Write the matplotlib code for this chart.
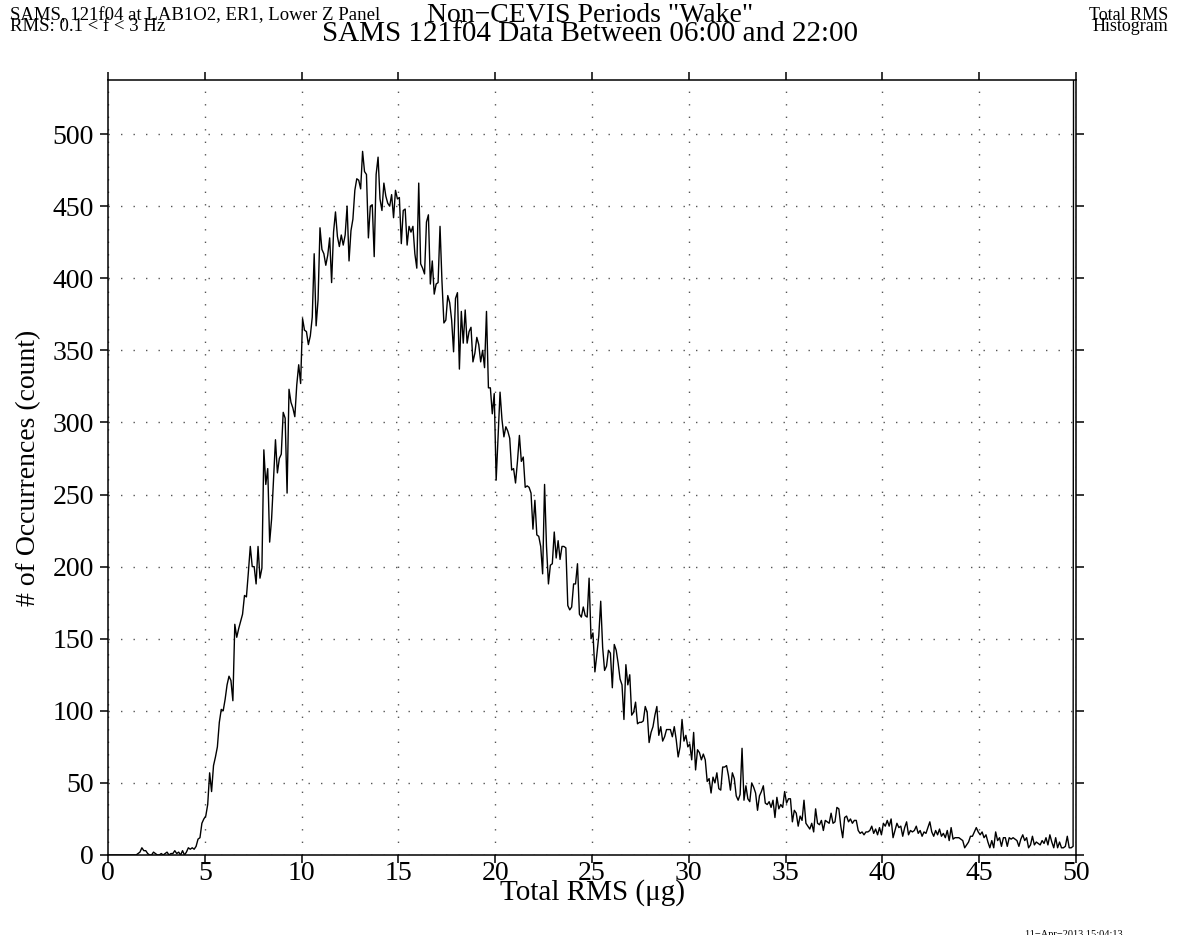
import numpy as np
import matplotlib
matplotlib.use("Agg")
import matplotlib.pyplot as plt

plt.rcParams['font.family'] = ['Liberation Serif', 'DejaVu Serif']

# histogram counts, bin width 0.1 ug, last bin = overflow (>= 50 ug)
counts = [
    0, 0, 0, 0, 0, 0, 0, 0, 0, 0,                       # 0
    0, 0, 0, 0, 0, 0, 1, 2, 5, 3,                       # 1
    3, 1, 0, 0, 2, 1, 0, 0, 1, 0,                       # 2
    1, 2, 0, 1, 1, 3, 1, 2, 0, 3,                       # 3
    0, 2, 5, 4, 5, 4, 6, 11, 12, 22,                    # 4
    25, 27, 35, 57, 44, 62, 68, 75, 92, 101,            # 5
    100, 108, 118, 124, 121, 107, 160, 151, 157, 162,   # 6
    167, 180, 179, 196, 214, 200, 200, 188, 214, 192,   # 7
    199, 281, 257, 268, 217, 233, 260, 288, 265, 275,   # 8
    278, 307, 303, 251, 323, 314, 310, 304, 326, 340,   # 9
    327, 372, 364, 363, 354, 360, 373, 417, 367, 385,   # 10
    435, 420, 417, 409, 416, 428, 397, 432, 446, 429,   # 11
    422, 430, 423, 430, 450, 412, 433, 441, 461, 469,   # 12
    468, 462, 488, 474, 472, 428, 450, 451, 415, 472,   # 13
    484, 455, 447, 466, 457, 452, 450, 458, 442, 461,   # 14
    455, 456, 424, 447, 448, 423, 436, 432, 436, 417,   # 15
    407, 466, 410, 407, 403, 439, 444, 396, 412, 389,   # 16
    396, 397, 436, 398, 369, 371, 388, 383, 371, 349,   # 17
    386, 390, 337, 377, 355, 378, 355, 363, 366, 342,   # 18
    348, 359, 354, 342, 350, 338, 377, 324, 324, 306,   # 19
    320, 260, 290, 321, 302, 290, 297, 294, 289, 267,   # 20
    268, 258, 273, 291, 273, 276, 255, 256, 255, 251,   # 21
    226, 246, 222, 221, 214, 195, 257, 214, 188, 201,   # 22
    202, 224, 206, 218, 205, 214, 214, 213, 173, 170,   # 23
    172, 188, 188, 202, 167, 165, 172, 166, 165, 192,   # 24
    150, 154, 127, 139, 152, 176, 144, 128, 131, 142,   # 25
    140, 116, 146, 142, 133, 122, 118, 94, 132, 118,    # 26
    125, 97, 99, 106, 91, 92, 92, 93, 103, 99,          # 27
    78, 85, 89, 97, 103, 83, 89, 79, 82, 87,            # 28
    87, 87, 82, 89, 80, 68, 75, 94, 79, 83,             # 29
    75, 77, 66, 85, 59, 73, 71, 66, 70, 66,             # 30
    51, 53, 43, 54, 50, 57, 46, 45, 61, 61,             # 31
    62, 55, 45, 57, 53, 41, 38, 42, 74, 38,             # 32
    48, 39, 37, 50, 47, 43, 31, 41, 44, 48,             # 33
    36, 35, 37, 33, 38, 26, 40, 32, 35, 33,             # 34
    44, 36, 39, 39, 23, 31, 29, 20, 27, 24,             # 35
    38, 22, 20, 18, 22, 16, 32, 22, 21, 24,             # 36
    17, 24, 23, 22, 29, 22, 23, 33, 32, 20,             # 37
    12, 26, 27, 23, 25, 22, 24, 24, 17, 15,             # 38
    16, 14, 16, 16, 17, 20, 15, 18, 14, 19,             # 39
    14, 22, 20, 24, 20, 25, 12, 17, 22, 19,             # 40
    20, 13, 19, 23, 14, 17, 16, 17, 20, 15,             # 41
    17, 13, 16, 15, 19, 23, 16, 13, 17, 14,             # 42
    18, 13, 15, 12, 17, 10, 19, 11, 12, 12,             # 43
    12, 11, 10, 5, 7, 9, 13, 13, 16, 19,                # 44
    16, 14, 16, 12, 14, 9, 5, 10, 5, 16,                # 45
    10, 12, 6, 12, 12, 6, 12, 11, 12, 11,               # 46
    10, 6, 11, 14, 10, 12, 5, 7, 13, 7,                 # 47
    9, 8, 7, 10, 8, 12, 7, 14, 9, 5,                    # 48
    12, 5, 9, 5, 5, 6, 13, 5, 5, 6,                     # 49
    2400,                                               # overflow
]
bin_width = 0.1
rms = np.arange(len(counts)) * bin_width - 0.05

x_ticks = np.arange(0, 51, 5)
y_ticks = np.arange(0, 501, 50)

fig = plt.figure(figsize=(11.77, 9.35), dpi=100)
ax = fig.add_axes([108/1177, 1-855/935, 968/1177, 775/935])

ax.plot(rms, counts, color='black', linewidth=1.0)

ax.set_xlim(0, 50)
ax.set_ylim(0, 537.5)
ax.set_xticks(x_ticks)
ax.set_yticks(y_ticks)
ax.grid(True, color='#555555', linestyle=(0, (1, 8)), linewidth=1.0)
ax.tick_params(direction='out', length=6, width=1.1, labelsize=20,
               top=True, right=True)
ax.tick_params(axis='y', pad=4)
ax.tick_params(axis='x', pad=-2)
for s in ax.spines.values():
    s.set_linewidth(1.1)

ax.set_xlabel('Total RMS (\u03bcg)', fontsize=21, va='top')
ax.xaxis.set_label_coords(0.5, -0.031)
ax.set_ylabel('# of Occurrences (count)', fontsize=20, labelpad=8)

# titles / headers
fig.text(590/1177, 1-22/935, 'Non\u2212CEVIS Periods "Wake"', ha='center', va='baseline', fontsize=20)
fig.text(590/1177, 1-41/935, 'SAMS 121f04 Data Between 06:00 and 22:00', ha='center', va='baseline', fontsize=21)
fig.text(10/1177, 1-20/935, 'SAMS, 121f04 at LAB1O2, ER1, Lower Z Panel', ha='left', va='baseline', fontsize=13.5)
fig.text(10/1177, 1-31/935, 'RMS: 0.1 < f < 3 Hz', ha='left', va='baseline', fontsize=13.5)
fig.text(1168/1177, 1-20/935, 'Total RMS', ha='right', va='baseline', fontsize=13)
fig.text(1168/1177, 1-31/935, 'Histogram', ha='right', va='baseline', fontsize=13)
fig.text(1074/1177, 1-937/935, '11\u2212Apr\u22122013 15:04:13', ha='center', va='baseline', fontsize=7.5)

fig.savefig('out.png', dpi=100)
